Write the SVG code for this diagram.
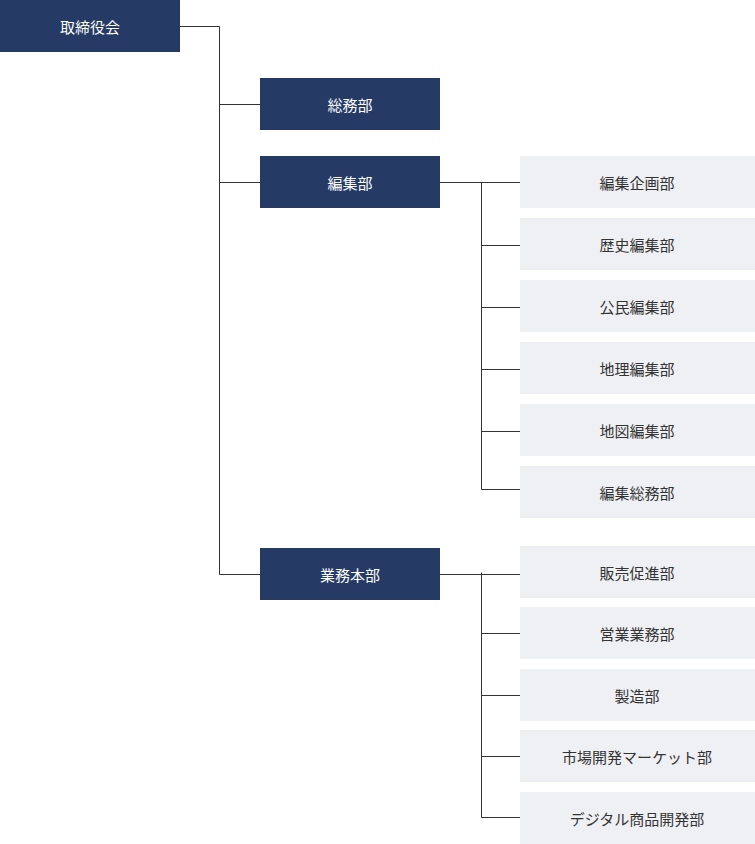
<svg xmlns="http://www.w3.org/2000/svg" width="755" height="844" viewBox="0 0 755 844">
<style>
.d{fill:#263a66}.l{fill:#eff0f4}
.t{font-family:"Noto Sans CJK JP",sans-serif;font-size:15px;text-anchor:middle;dominant-baseline:central}
.w{fill:#fff}.k{fill:#333}
.c{stroke:#333;stroke-width:1;fill:none}
</style>
<rect width="755" height="844" fill="#fff"/>
<g id="connectors" class="c">
<path d="M180 26.5H219.5V574.5H260M219.5 104.5H260M219.5 182.5H260"/>
<path d="M440 182.5H520M481.5 182.5V489.5H520M481.5 245.5H520M481.5 307.5H520M481.5 369.5H520M481.5 431.5H520"/>
<path d="M440 574.5H520M481.5 572.5V817.5H520M481.5 633.5H520M481.5 695.5H520M481.5 756.5H520"/>
</g>
<g id="n0"><rect class="d" x="0" y="0" width="180" height="52"/><text class="t w" x="90" y="26">取締役会</text></g>
<g id="n1"><rect class="d" x="260" y="78" width="180" height="52"/><text class="t w" x="350" y="104">総務部</text></g>
<g id="n2"><rect class="d" x="260" y="156" width="180" height="52"/><text class="t w" x="350" y="182">編集部</text></g>
<g id="n3"><rect class="d" x="260" y="548" width="180" height="52"/><text class="t w" x="350" y="574">業務本部</text></g>
<g id="r1"><rect class="l" x="520" y="156" width="235" height="52"/><text class="t k" x="637" y="182">編集企画部</text></g>
<g id="r2"><rect class="l" x="520" y="218" width="235" height="52"/><text class="t k" x="637" y="244">歴史編集部</text></g>
<g id="r3"><rect class="l" x="520" y="280" width="235" height="52"/><text class="t k" x="637" y="306">公民編集部</text></g>
<g id="r4"><rect class="l" x="520" y="342" width="235" height="52"/><text class="t k" x="637" y="368">地理編集部</text></g>
<g id="r5"><rect class="l" x="520" y="404" width="235" height="52"/><text class="t k" x="637" y="430">地図編集部</text></g>
<g id="r6"><rect class="l" x="520" y="466" width="235" height="52"/><text class="t k" x="637" y="492">編集総務部</text></g>
<g id="s1"><rect class="l" x="520" y="546" width="235" height="52"/><text class="t k" x="637" y="572">販売促進部</text></g>
<g id="s2"><rect class="l" x="520" y="607" width="235" height="52"/><text class="t k" x="637" y="633">営業業務部</text></g>
<g id="s3"><rect class="l" x="520" y="669" width="235" height="52"/><text class="t k" x="637" y="695">製造部</text></g>
<g id="s4"><rect class="l" x="520" y="730" width="235" height="52"/><text class="t k" x="637" y="756">市場開発マーケット部</text></g>
<g id="s5"><rect class="l" x="520" y="792" width="235" height="52"/><text class="t k" x="637" y="818">デジタル商品開発部</text></g>
</svg>
